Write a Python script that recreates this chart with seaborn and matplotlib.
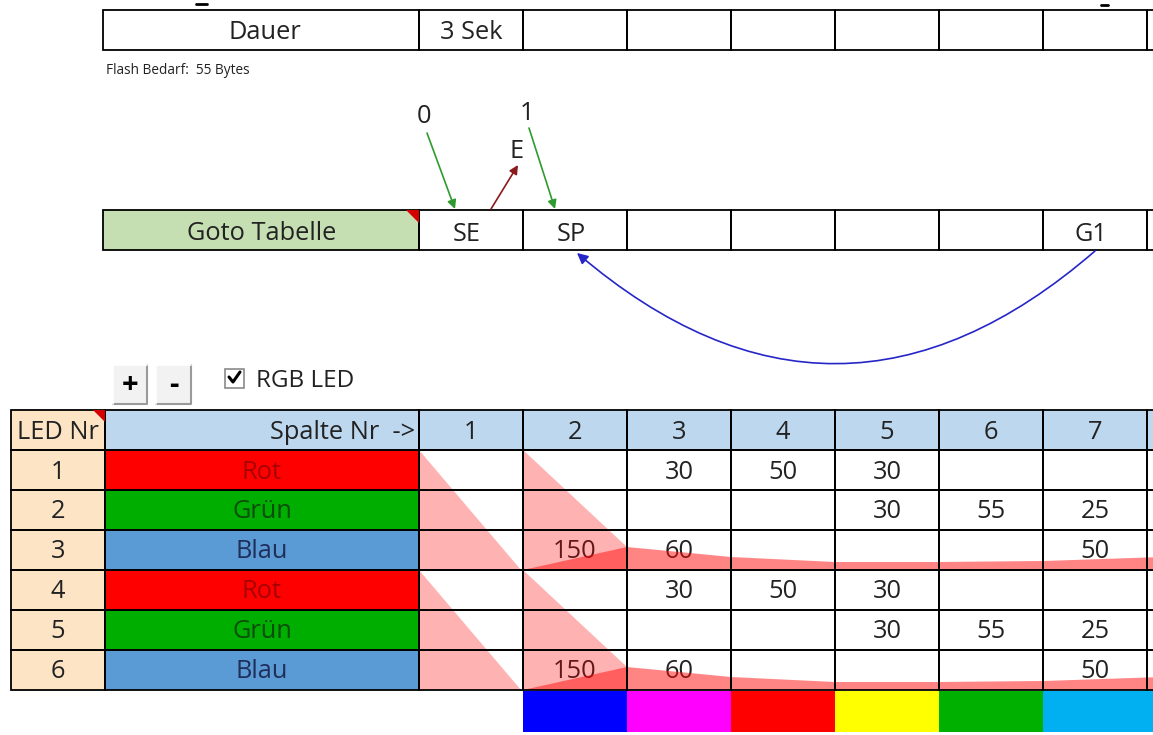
import matplotlib
matplotlib.use("Agg")
import matplotlib.pyplot as plt
import seaborn as sns
import numpy as np
from matplotlib.patches import Rectangle, Polygon, FancyArrowPatch

# ---------------- data ----------------
column_numbers = ["1", "2", "3", "4", "5", "6", "7"]
led_numbers = ["1", "2", "3", "4", "5", "6"]
channel_names = ["Rot", "Grün", "Blau", "Rot", "Grün", "Blau"]
row_rot = [None, None, 30, 50, 30, None, None]
row_gruen = [None, None, None, None, 30, 55, 25]
row_blau = [None, 150, 60, None, None, None, 50]
dauer_values = ["3 Sek", "", "", "", "", "", ""]
goto_values = ["SE", "SP", "", "", "", "", "G1"]
goto_inputs = ["0", "1"]
goto_exit = "E"
strip_colors = ["#0000FF", "#FF00FF", "#FF0000", "#FFFF00", "#00B000", "#00B0F0"]
fade_profile = [0, 23, 13, 8, 8, 9, 13]   # red area height at column borders from col 2
flash_text = "Flash Bedarf:  55 Bytes"

# ---------------- style ----------------
sns.set_theme(style="white")
plt.rcParams['font.family'] = ['Open Sans', 'DejaVu Sans']

W, H = 1153, 735
fig = plt.figure(figsize=(W / 100, H / 100), dpi=100)
ax = fig.add_axes([0, 0, 1, 1])
ax.set_xlim(0, W)
ax.set_ylim(H, 0)
ax.axis("off")

LW = 1.3
X1 = 419      # left of column 1
CW = 104      # column width
NCOL = len(column_numbers)
TXT = "#222222"
FS = 18.3
DY = 2        # text baseline nudge


def col_left(i):
    return X1 + i * CW


def fill(x0, y0, x1, y1, fc, z=1):
    ax.add_patch(Rectangle((x0, y0), x1 - x0, y1 - y0, facecolor=fc, edgecolor="none", zorder=z))


def frame(x0, y0, x1, y1, z=6, lw=LW):
    ax.add_patch(Rectangle((x0, y0), x1 - x0, y1 - y0, facecolor="none", edgecolor="black", lw=lw, zorder=z))


# ---------------- Dauer row ----------------
dy0, dy1 = 10, 50
fill(103, dy0, 419, dy1, "white")
frame(103, dy0, 419, dy1)
ax.text(265, 30 + DY, "Dauer", ha="center", va="center", fontsize=FS, color=TXT)
for i, v in enumerate(dauer_values):
    frame(col_left(i), dy0, col_left(i + 1), dy1)
    if v:
        ax.text(col_left(i) + CW / 2, 30 + DY, v, ha="center", va="center", fontsize=FS, color=TXT)
frame(col_left(NCOL), dy0, W + 20, dy1)
ax.plot([196, 207], [4, 4], color="black", lw=2)
ax.plot([1101, 1108], [5, 5], color="black", lw=2)
ax.text(106, 70, flash_text, ha="left", va="center", fontsize=9.8, color=TXT)

# ---------------- Goto row ----------------
gy0, gy1 = 210, 250
fill(103, gy0, 419, gy1, "#C5DFB3")
frame(103, gy0, 419, gy1)
ax.add_patch(Polygon([(406, gy0), (419, gy0), (419, gy0 + 13)], closed=True, facecolor="#D40000",
                     edgecolor="none", zorder=7))
ax.text(262, 231 + DY, "Goto Tabelle", ha="center", va="center", fontsize=FS, color=TXT)
for i, v in enumerate(goto_values):
    frame(col_left(i), gy0, col_left(i + 1), gy1)
    if v:
        ax.text(col_left(i) + CW / 2 - 4, 232 + DY, v, ha="center", va="center", fontsize=FS, color=TXT)
frame(col_left(NCOL), gy0, W + 20, gy1)

# input arrows
green = "#2E9B2E"
ax.text(424, 116, goto_inputs[0], ha="center", va="center", fontsize=FS, color=TXT)
ax.text(527, 113, goto_inputs[1], ha="center", va="center", fontsize=FS, color=TXT)
ax.text(517, 151, goto_exit, ha="center", va="center", fontsize=FS, color=TXT)
for (xa, ya, xb, yb, c) in [(427, 133, 455, 209, green), (529, 128, 555, 209, green),
                            (491, 209, 518, 165, "#8B1A1A")]:
    ax.add_patch(FancyArrowPatch((xa, ya), (xb, yb), arrowstyle="-|>", mutation_scale=13,
                                 color=c, lw=1.2, shrinkA=0, shrinkB=0, zorder=8))
ax.add_patch(FancyArrowPatch((1095, 251), (577, 253), connectionstyle="arc3,rad=-0.43",
                             arrowstyle="-|>", mutation_scale=16, color="#2626C8", lw=1.2,
                             shrinkA=0, shrinkB=0, zorder=8))

# ---------------- buttons & checkbox ----------------
for (bx0, bx1, lab) in [(113, 147, "+"), (156, 191, "-")]:
    fill(bx0, 365, bx1, 404, "#F2F2F2", z=2)
    ax.plot([bx1, bx1, bx0], [365, 404, 404], color="#9A9A9A", lw=1.5, zorder=3)
    ax.plot([bx0, bx0, bx1], [404, 365, 365], color="white", lw=1.2, zorder=3)
    ax.text((bx0 + bx1) / 2, 385, lab, ha="center", va="center", fontsize=21,
            fontweight="bold", color="black", zorder=4)
ax.add_patch(Rectangle((225, 369), 19, 19, facecolor="white", edgecolor="#8A8A8A", lw=1.2, zorder=3))
ax.plot([229, 233, 240], [377, 382, 372], color="black", lw=2.2, zorder=4)
ax.text(256, 381, "RGB LED", ha="left", va="center", fontsize=17.5, color=TXT)

# ---------------- main table ----------------
hy0 = 410
RH = 40
ty0 = hy0 + RH
nrows = len(led_numbers)
tbottom = ty0 + nrows * RH

# header
fill(11, hy0, 105, ty0, "#FCE4C4")
ax.text(58, 430 + DY, "LED Nr", ha="center", va="center", fontsize=FS, color=TXT, zorder=5)
ax.add_patch(Polygon([(93, hy0), (105, hy0), (105, hy0 + 12)], closed=True, facecolor="#D40000",
                     edgecolor="none", zorder=7))
fill(105, hy0, 419, ty0, "#BDD7EE")
ax.text(415, 430 + DY, "Spalte Nr  ->", ha="right", va="center", fontsize=FS, color=TXT, zorder=5)
for i, c in enumerate(column_numbers):
    fill(col_left(i), hy0, col_left(i + 1), ty0, "#BDD7EE")
    ax.text(col_left(i) + CW / 2, 430 + DY, c, ha="center", va="center", fontsize=FS, color=TXT, zorder=5)
fill(col_left(NCOL), hy0, W + 20, ty0, "#BDD7EE")

chan_fill = {"Rot": "#FF0000", "Grün": "#00AE00", "Blau": "#5B9BD5"}
chan_text = {"Rot": "#A80000", "Grün": "#0B4D0B", "Blau": "#1F2F5A"}
value_rows = [row_rot, row_gruen, row_blau, row_rot, row_gruen, row_blau]

for r in range(nrows):
    y0 = ty0 + r * RH
    y1 = y0 + RH
    yc = y0 + RH / 2 + DY
    fill(11, y0, 105, y1, "#FCE4C4")
    ax.text(58, yc, led_numbers[r], ha="center", va="center", fontsize=FS, color=TXT, zorder=5)
    name = channel_names[r]
    fill(105, y0, 419, y1, chan_fill[name])
    ax.text(262, yc, name, ha="center", va="center", fontsize=FS, color=chan_text[name], zorder=5)
    for i in range(NCOL):
        fill(col_left(i), y0, col_left(i + 1), y1, "white")
        v = value_rows[r][i]
        if v is not None:
            ax.text(col_left(i) + CW / 2, yc, str(v), ha="center", va="center", fontsize=FS,
                    color=TXT, zorder=5)
    fill(col_left(NCOL), y0, W + 20, y1, "white")

# brightness overlays (one per RGB group)
for g in range(2):
    gtop = ty0 + g * 3 * RH
    gbot = gtop + 3 * RH
    ax.add_patch(Polygon([(col_left(0), gtop), (col_left(0), gbot), (col_left(1) - 2, gbot)],
                         closed=True, facecolor=(1, 0, 0, 0.3), edgecolor="none", zorder=5.5))
    ax.add_patch(Polygon([(col_left(1), gtop), (col_left(2), gbot - fade_profile[1]),
                          (col_left(2), gbot), (col_left(1), gbot)],
                         closed=True, facecolor=(1, 0, 0, 0.3), edgecolor="none", zorder=5.5))
    xs = np.array([col_left(1 + k) for k in range(len(fade_profile))], dtype=float)
    xs[-1] = W + 10
    top = gbot - np.array(fade_profile, dtype=float)
    ax.fill_between(xs, top, gbot, facecolor=(1, 0.05, 0.05, 0.5), edgecolor="none", zorder=5.6)

# grid lines on top
for r in range(-1, nrows):
    y0 = ty0 + r * RH
    y1 = y0 + RH
    frame(11, y0, 105, y1)
    frame(105, y0, 419, y1)
    for i in range(NCOL):
        frame(col_left(i), y0, col_left(i + 1), y1)
    frame(col_left(NCOL), y0, W + 20, y1)

# colour strip under the table
for k, c in enumerate(strip_colors):
    x0 = col_left(1 + k)
    x1 = col_left(2 + k) if k < len(strip_colors) - 1 else W
    fill(x0, tbottom + 1, x1, tbottom + 42, c, z=2)

fig.savefig("out.png", dpi=100)
